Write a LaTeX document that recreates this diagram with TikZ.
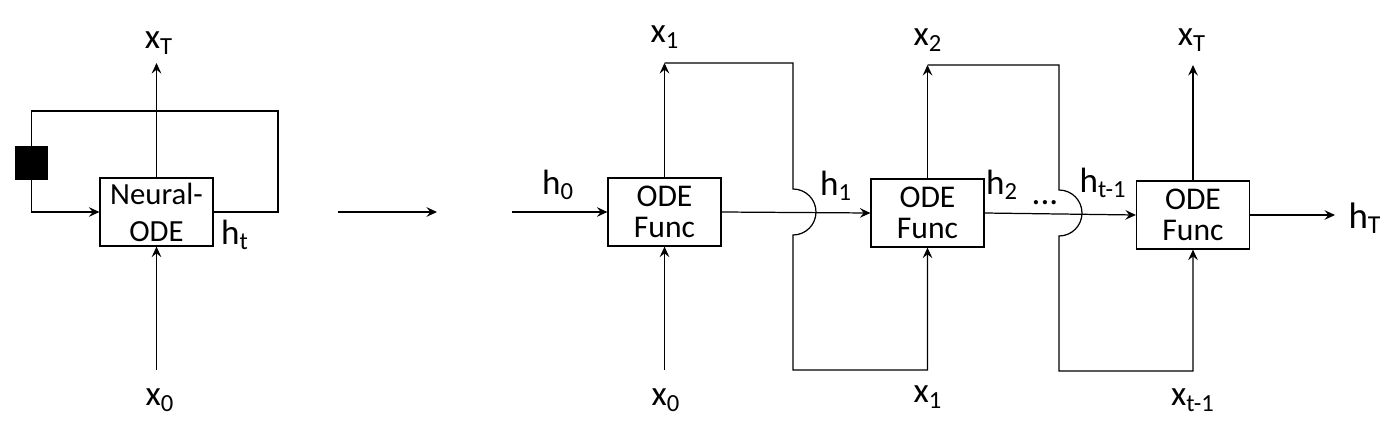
\documentclass[tikz,border=0pt]{standalone}
\usepackage{fontspec}
\setmainfont{Carlito}
\usetikzlibrary{arrows.meta}

\begin{document}
\begin{tikzpicture}[x=0.02cm, y=-0.02cm, line width=0.7pt,
  flow/.style={-{Stealth[length=6pt,width=5.5pt,inset=2.2pt]}},
  func/.style={draw, minimum width=2.26cm, minimum height=1.36cm, inner sep=0pt, align=center, font=\fontsize{18}{18}\selectfont},
  lbl/.style={inner sep=0pt, font=\fontsize{20}{24}\selectfont}]
\useasboundingbox (0,0) rectangle (1386,423);

% folded cell
\node[func, font=\fontsize{17.5}{21}\selectfont] (node) at (156.5,212) {Neural-\\ODE};
\node[draw, fill=black, minimum width=0.62cm, minimum height=0.64cm, inner sep=0pt] (delay) at (31.5,163) {};
\node[lbl] (xTa) at (159,43) {x\textsubscript{T}};
\node[lbl] (x0a) at (160,400) {x\textsubscript{0}};
\node[lbl] (ht) at (235,235) {h\textsubscript{t}};
\coordinate (upa) at (156.5,63);
\coordinate (lowa) at (156.5,370);
\coordinate (loop) at (278,111);
\draw[flow] (node.north) -- (upa);
\draw[flow] (lowa) -- (node.south);
\draw (node.east) -| (loop) -| (delay.north);
\draw[flow] (delay.south) |- (node.west);

% unfold arrow
\coordinate (ua) at (338,212);
\coordinate (ub) at (437,212);
\draw[flow] (ua) -- (ub);

% unrolled chain
\node[func] (f1) at (664.5,212) {ODE\\Func};
\node[func] (f2) at (927.5,213) {ODE\\Func};
\node[func] (f3) at (1193,215) {ODE\\Func};

\node[lbl] (h0) at (558,185) {h\textsubscript{0}};
\node[lbl] (h1) at (836,186) {h\textsubscript{1}};
\node[lbl] (h2) at (1002,185) {h\textsubscript{2}};
\node[lbl] (dots) at (1045,203) {...};
\node[lbl] (htm) at (1103,183) {h\textsubscript{t-1}};
\node[lbl, font=\fontsize{21}{25}\selectfont] (hT) at (1365,218) {h\textsubscript{T}};

\node[lbl] (x1t) at (665,37) {x\textsubscript{1}};
\node[lbl] (x2t) at (928,40) {x\textsubscript{2}};
\node[lbl] (xTt) at (1192,40) {x\textsubscript{T}};
\node[lbl] (x0b) at (666,400) {x\textsubscript{0}};
\node[lbl] (x1b) at (928,397) {x\textsubscript{1}};
\node[lbl] (xtb) at (1193,400) {x\textsubscript{t-1}};

\coordinate (s0) at (512,212);
\coordinate (s3) at (1335,215);
\draw[flow] (s0) -- (f1.west);
\draw[flow] (f1.east) -- (f2.west);
\draw[flow] (f2.east) -- (f3.west);
\draw[flow] (f3.east) -- (s3);

\coordinate (t1) at (664.5,63);
\coordinate (t2) at (927.5,65);
\coordinate (t3) at (1193,65);
\draw[flow] (f1.north) -- (t1);
\draw[flow] (f2.north) -- (t2);
\draw[flow] (f3.north) -- (t3);
\coordinate (b1) at (664.5,370);
\draw[flow] (b1) -- (f1.south);

% skip lines with hops
\coordinate (k1) at (793,189);
\coordinate (k2) at (1059,190);
\draw[flow] (t1) -| (k1) arc[start angle=90, end angle=-90, radius=0.46cm] -- (793,370) -| (f2.south);
\draw[flow] (t2) -| (k2) arc[start angle=90, end angle=-90, radius=0.46cm] -- (1059,371) -| (f3.south);
\end{tikzpicture}
\end{document}
